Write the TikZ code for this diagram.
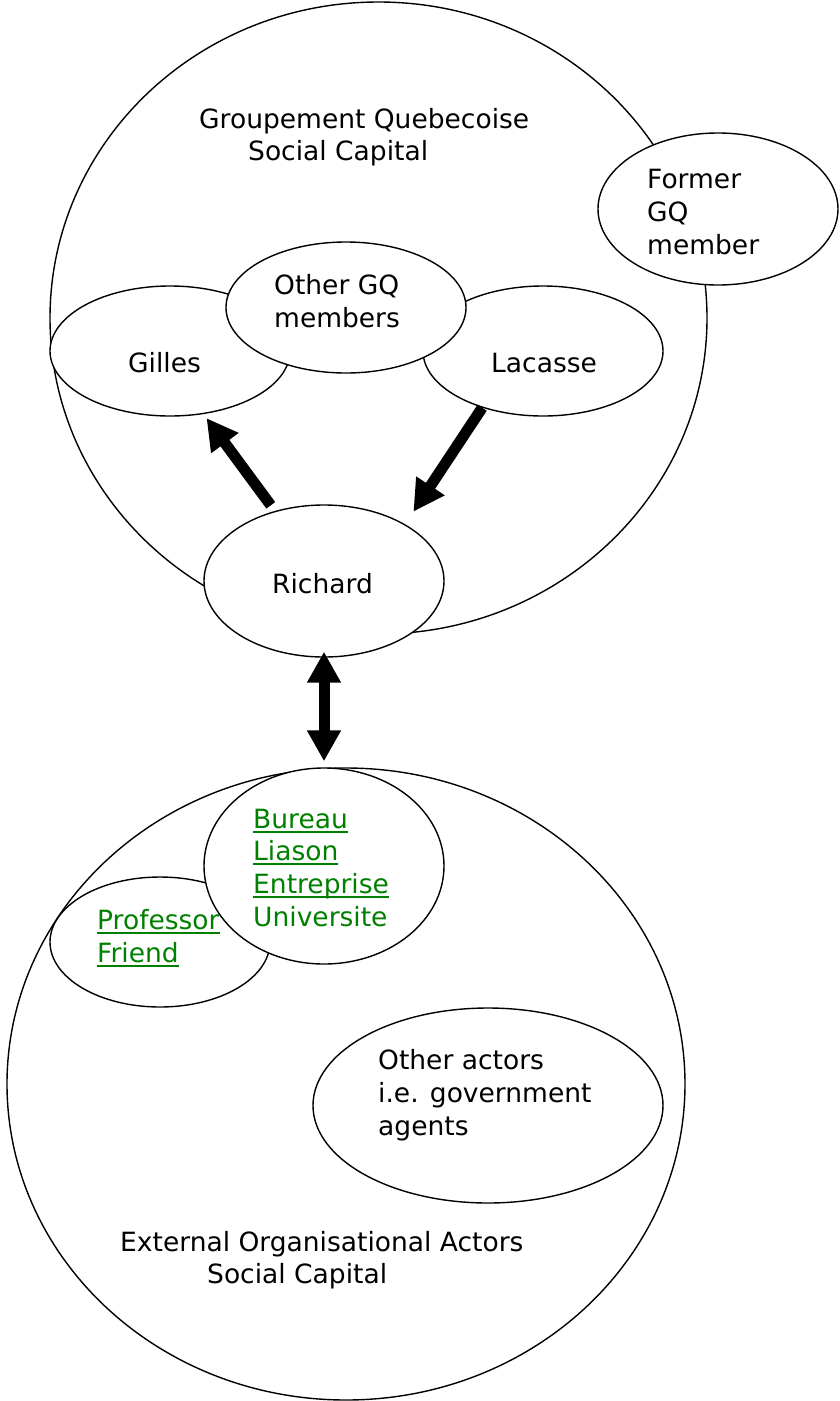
\documentclass[tikz,border=0pt]{standalone}
\usepackage{fontspec}
\setmainfont{DejaVu Sans}
\usetikzlibrary{shapes.geometric,arrows.meta}

\definecolor{linkgreen}{RGB}{0,128,0}
% underlined word, rule a little below the baseline
\newcommand\ulink[1]{\setbox0\hbox{#1}\rlap{\vrule height -2.6pt depth 4.6pt width \wd0}\box0}

\tikzset{
  blob/.style={draw,ellipse,fill=white,line width=1.4pt,inner sep=0pt},
  lbl/.style={anchor=base west,inner sep=0pt,align=left,
    font={\fontsize{26.5pt}{32.6pt}\selectfont}},
  fat/.style={line width=11pt,-{Triangle[length=31pt,width=32pt]}},
  fatboth/.style={line width=11pt,{Triangle[length=31pt,width=32pt]}-{Triangle[length=31pt,width=32pt]}}
}

\begin{document}
\begin{tikzpicture}[x=1pt,y=-1pt]
  \useasboundingbox (0,0) rectangle (840,1401);

  % the GQ circle and its members
  \node [blob,minimum width=657pt,minimum height=632pt] (gq) at (378.5,318) {};
  \node [blob,minimum width=240pt,minimum height=152pt] (former) at (718,209) {};
  \node [blob,minimum width=240pt,minimum height=130pt] (gilles) at (170,351) {};
  \node [blob,minimum width=240pt,minimum height=130pt] (lacasse) at (543,351) {};
  \node [blob,minimum width=240pt,minimum height=131pt] (others) at (346,307.5) {};
  \node [blob,minimum width=240pt,minimum height=152pt] (richard) at (324,581) {};

  % labels: multi-line ones sit on the baseline of their last line
  \node [lbl] (gq-lbl) at (199,128) {Groupement Quebecoise};
  \node [lbl] (gq-lbl2) at (248,160) {Social Capital};
  \node [lbl] (former-lbl) at (647,254) {Former\\GQ\\member};
  \node [lbl] (others-lbl) at (274,327) {Other GQ\\members};
  \node [lbl] (gilles-lbl) at (128,372) {Gilles};
  \node [lbl] (lacasse-lbl) at (491,372) {Lacasse};
  \node [lbl] (richard-lbl) at (272,593) {Richard};

  % the external actors
  \node [blob,minimum width=678pt,minimum height=632pt] (ext) at (346,1084) {};
  \node [blob,minimum width=220pt,minimum height=130pt] (prof) at (160,942) {};
  \node [blob,minimum width=240pt,minimum height=196pt] (bleu) at (324,866) {};
  \node [blob,minimum width=350pt,minimum height=195pt] (actors) at (488,1105.5) {};

  \node [lbl,text=linkgreen] (bleu-lbl) at (253,926)
    {\ulink{Bureau}\\\ulink{Liason}\\\ulink{Entreprise}\\Universite};
  \node [lbl,text=linkgreen] (prof-lbl) at (97,962)
    {\ulink{Professor}\\\ulink{Friend}};
  \node [lbl] (actors-lbl) at (378,1135)
    {Other actors\\i.e. government\\agents};
  \node [lbl] (ext-lbl) at (120,1251) {External Organisational Actors};
  \node [lbl] (ext-lbl2) at (207,1283) {Social Capital};

  % ties between the actors
  \draw [fat,shorten <=7pt,shorten >=5pt] (richard.125) -- (gilles.-62);
  \draw [fat,shorten >=15pt] (lacasse.223) -- (richard.35.5);
  \draw [fatboth,shorten <=-6pt,shorten >=6pt] (richard.south) -- (bleu.north);
\end{tikzpicture}
\end{document}
